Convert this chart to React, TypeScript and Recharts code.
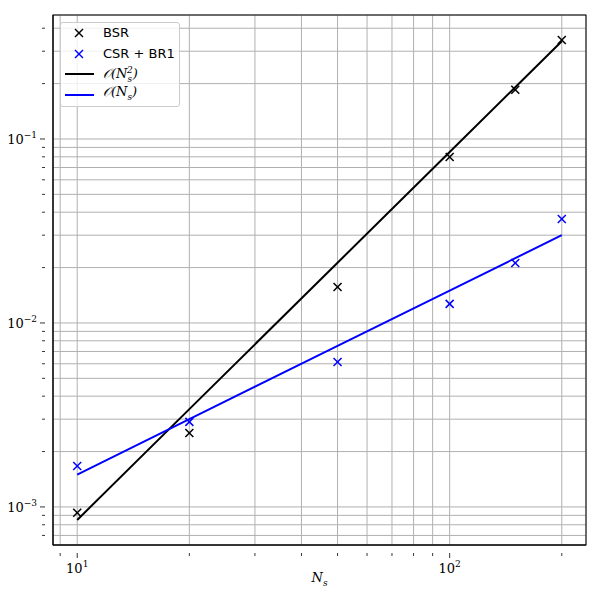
import { ComposedChart, Scatter, Line, XAxis, YAxis, CartesianGrid } from "recharts";

const ns = [10, 20, 50, 100, 150, 200];
const bsr = [9.3e-4, 2.52e-3, 1.57e-2, 0.0798, 0.185, 0.345];
const csrBr1 = [1.67e-3, 2.9e-3, 6.14e-3, 1.27e-2, 0.0212, 0.0367];
const quadRef = [8.5e-4, 3.4e-3, 0.02125, 0.085, 0.19125, 0.34];
const linRef = [1.5e-3, 3.0e-3, 7.5e-3, 0.015, 0.0225, 0.03];

const xMajor = [10, 100];
const xMinor = [9, 20, 30, 40, 50, 60, 70, 80, 90, 200];
const yMajor = [1e-3, 1e-2, 1e-1];
const yMinor = [
  7e-4, 8e-4, 9e-4,
  2e-3, 3e-3, 4e-3, 5e-3, 6e-3, 7e-3, 8e-3, 9e-3,
  2e-2, 3e-2, 4e-2, 5e-2, 6e-2, 7e-2, 8e-2, 9e-2,
  0.2, 0.3, 0.4,
];

const bsrData = ns.map((n, i) => ({ n, v: bsr[i] }));
const csrData = ns.map((n, i) => ({ n, v: csrBr1[i] }));
const quadData = ns.map((n, i) => ({ n, v: quadRef[i] }));
const linData = ns.map((n, i) => ({ n, v: linRef[i] }));

const serif = "'DejaVu Serif', 'Liberation Serif', serif";

const Cross = (color: string) => (props: any) => {
  const { cx, cy } = props;
  const r = 4;
  return (
    <g stroke={color} strokeWidth={1.5}>
      <line x1={cx - r} y1={cy - r} x2={cx + r} y2={cy + r} />
      <line x1={cx - r} y1={cy + r} x2={cx + r} y2={cy - r} />
    </g>
  );
};

const expOf = (v: number) => Math.round(Math.log10(v));

const XTick = (props: any) => {
  const { x, y, payload } = props;
  const major = xMajor.includes(payload.value);
  return (
    <g>
      <line x1={x} y1={y} x2={x} y2={y + (major ? 5 : 3)} stroke="#000" strokeWidth={0.8} />
      {major && (
        <text x={x} y={y + 20} textAnchor="middle" fontFamily={serif} fontSize={13} fill="#000">
          10
          <tspan dy={-6} fontSize={9}>{expOf(payload.value)}</tspan>
        </text>
      )}
    </g>
  );
};

const YTick = (props: any) => {
  const { x, y, payload } = props;
  const major = yMajor.includes(payload.value);
  return (
    <g>
      <line x1={x} y1={y} x2={x - (major ? 5 : 3)} y2={y} stroke="#000" strokeWidth={0.8} />
      {major && (
        <text x={x - 8} y={y + 5} textAnchor="end" fontFamily={serif} fontSize={13} fill="#000">
          10
          <tspan dy={-6} fontSize={9}>{"\u2212" + Math.abs(expOf(payload.value))}</tspan>
        </text>
      )}
    </g>
  );
};

const legendItems = [
  { kind: "x", color: "#000", label: <span>BSR</span> },
  { kind: "x", color: "#0000ff", label: <span>CSR + BR1</span> },
  {
    kind: "l",
    color: "#000",
    label: (
      <span style={{ fontFamily: serif, fontStyle: "italic" }}>
        𝒪(N<sub style={{ fontSize: 9 }}>s</sub>
        <sup style={{ fontSize: 9, marginLeft: -5 }}>2</sup>)
      </span>
    ),
  },
  {
    kind: "l",
    color: "#0000ff",
    label: (
      <span style={{ fontFamily: serif, fontStyle: "italic" }}>
        𝒪(N<sub style={{ fontSize: 9 }}>s</sub>)
      </span>
    ),
  },
];

const LegendBox = () => (
  <div
    style={{
      position: "absolute",
      left: 60,
      top: 22,
      width: 118,
      height: 83,
      background: "rgba(255,255,255,0.8)",
      border: "1px solid #cccccc",
      borderRadius: 3,
      fontFamily: "'DejaVu Sans', sans-serif",
      fontSize: 13,
      color: "#000",
    }}
  >
    {legendItems.map((e, i) => (
      <div key={i} style={{ position: "absolute", left: 0, top: 1 + i * 20.5, height: 18, display: "flex", alignItems: "center" }}>
        <svg width={40} height={18}>
          {e.kind === "x" ? (
            <g stroke={e.color} strokeWidth={1.5}>
              <line x1={14} y1={5} x2={22} y2={13} />
              <line x1={14} y1={13} x2={22} y2={5} />
            </g>
          ) : (
            <line x1={4} y1={9} x2={33} y2={9} stroke={e.color} strokeWidth={2} />
          )}
        </svg>
        <div style={{ marginLeft: 2, lineHeight: "18px", whiteSpace: "nowrap" }}>{e.label}</div>
      </div>
    ))}
  </div>
);

export default function App() {
  return (
    <div style={{ margin: -8, width: 600, height: 600, background: "#fff", position: "relative" }}>
      <ComposedChart width={600} height={600} margin={{ top: 15, right: 14, bottom: 0, left: 0 }}>
        <CartesianGrid stroke="#b0b0b0" strokeWidth={1} />
        <XAxis
          dataKey="n"
          type="number"
          scale="log"
          domain={[8.609, 232.3]}
          allowDataOverflow
          ticks={[...xMinor, ...xMajor].sort((a, b) => a - b)}
          tick={<XTick />}
          tickLine={false}
          axisLine={{ stroke: "#000", strokeWidth: 1 }}
          height={55}
          interval={0}
        />
        <YAxis
          dataKey="v"
          type="number"
          scale="log"
          domain={[6.21e-4, 0.472]}
          allowDataOverflow
          ticks={[...yMinor, ...yMajor].sort((a, b) => a - b)}
          tick={<YTick />}
          tickLine={false}
          axisLine={{ stroke: "#000", strokeWidth: 1 }}
          width={53}
          interval={0}
        />
        <Scatter data={bsrData} dataKey="v" shape={Cross("#000")} isAnimationActive={false} />
        <Scatter data={csrData} dataKey="v" shape={Cross("#0000ff")} isAnimationActive={false} />
        <Line data={quadData} dataKey="v" stroke="#000" strokeWidth={2} dot={false} isAnimationActive={false} />
        <Line data={linData} dataKey="v" stroke="#0000ff" strokeWidth={2} dot={false} isAnimationActive={false} />
        <text x={319.5} y={582} textAnchor="middle" fontFamily={serif} fontStyle="italic" fontSize={13}>
          N<tspan dy={4} fontSize={9}>s</tspan>
        </text>
        <rect x={53} y={15} width={533} height={530} fill="none" stroke="#000" strokeWidth={1} />
      </ComposedChart>
      <LegendBox />
    </div>
  );
}
